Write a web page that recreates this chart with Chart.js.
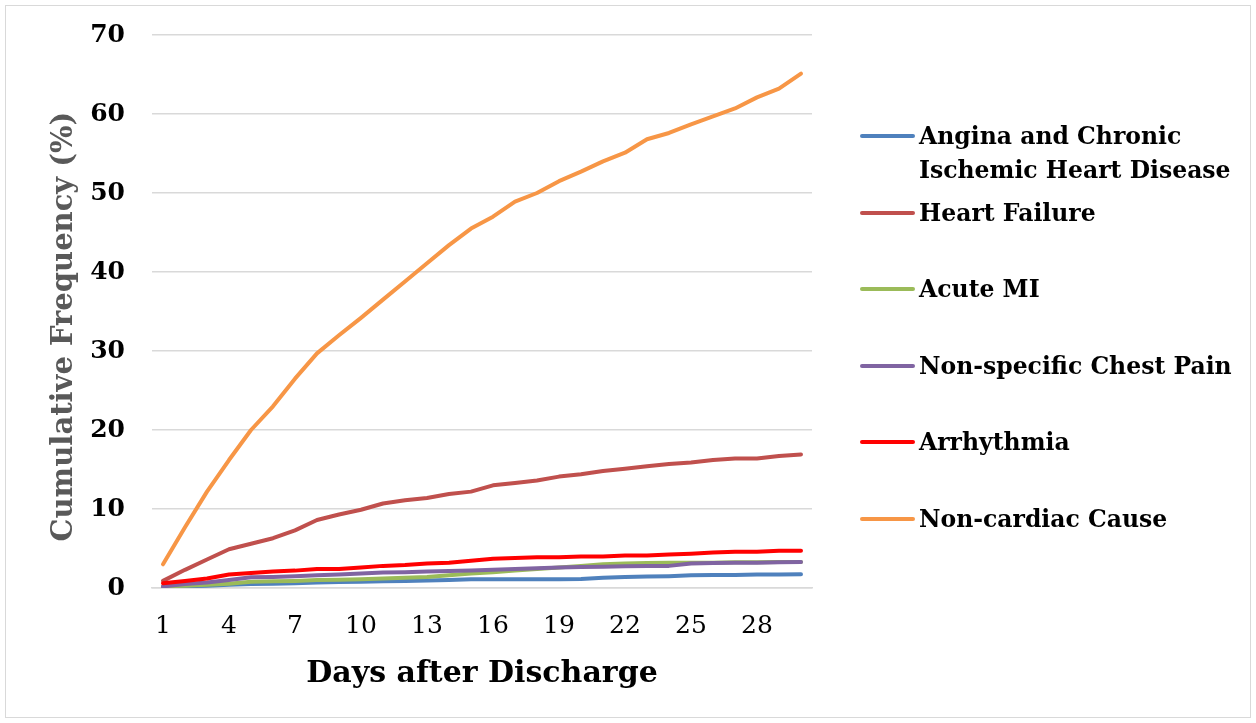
<!DOCTYPE html>
<html lang="en">
<head>
  <meta charset="UTF-8">
  <title>Cumulative Frequency by Cause</title>
  <style>
    body {
      margin: 0;
      padding: 0;
      background: #ffffff;
    }

    #wrap {
      position: relative;
      width: 1256px;
      height: 723px;
    }

    #frame {
      position: absolute;
      left: 5px;
      top: 5px;
      width: 1246px;
      height: 713px;
      border: 1.5px solid #d9d9d9;
      box-sizing: border-box;
      pointer-events: none;
    }

    #legend {
      position: absolute;
      left: 0;
      top: 0;
      font-family: "DejaVu Serif", serif;
      font-weight: bold;
      font-size: 23.5px;
      line-height: 34px;
      color: #000;
    }

    .item {
      position: absolute;
      left: 860px;
      white-space: nowrap;
    }

    .swatch {
      position: absolute;
      left: 0;
      top: 15px;
      width: 55px;
      height: 4px;
      border-radius: 2px;
    }

    .label {
      position: absolute;
      left: 59px;
      top: 0;
    }
  </style>
</head>
<body>
  <div id="wrap">
    <canvas id="grafico" width="1256" height="723"></canvas>
    <div id="frame"></div>
    <div id="legend"></div>
  </div>

  <script src="https://cdn.jsdelivr.net/npm/chart.js"></script>
  <script>
    const days = [1, 2, 3, 4, 5, 6, 7, 8, 9, 10, 11, 12, 13, 14, 15,
                  16, 17, 18, 19, 20, 21, 22, 23, 24, 25, 26, 27, 28, 29, 30];

    const seriesNames = [
      ['Angina and Chronic', 'Ischemic Heart Disease'],
      ['Heart Failure'],
      ['Acute MI'],
      ['Non-specific Chest Pain'],
      ['Arrhythmia'],
      ['Non-cardiac Cause']
    ];

    const angina = [0.05, 0.2, 0.3, 0.4, 0.5, 0.55, 0.6, 0.7, 0.75, 0.8, 0.85, 0.9, 0.95, 1.0, 1.1,
                    1.1, 1.1, 1.1, 1.1, 1.15, 1.3, 1.4, 1.45, 1.5, 1.6, 1.65, 1.65, 1.7, 1.7, 1.75];
    const heartFailure = [0.9, 2.3, 3.6, 4.9, 5.6, 6.3, 7.3, 8.6, 9.3, 9.9, 10.7, 11.1, 11.4, 11.9, 12.2,
                          13.0, 13.3, 13.6, 14.1, 14.4, 14.8, 15.1, 15.4, 15.7, 15.9, 16.2, 16.4, 16.4, 16.7, 16.9];
    const acuteMI = [0.2, 0.3, 0.4, 0.55, 0.8, 0.85, 0.9, 1.0, 1.05, 1.1, 1.2, 1.3, 1.4, 1.6, 1.85,
                     2.0, 2.2, 2.4, 2.6, 2.8, 3.0, 3.1, 3.15, 3.2, 3.2, 3.2, 3.25, 3.25, 3.3, 3.3];
    const chestPain = [0.2, 0.5, 0.7, 1.0, 1.35, 1.4, 1.5, 1.6, 1.7, 1.85, 1.95, 2.0, 2.1, 2.15, 2.2,
                       2.3, 2.4, 2.5, 2.6, 2.65, 2.7, 2.75, 2.8, 2.8, 3.1, 3.15, 3.2, 3.2, 3.25, 3.3];
    const arrhythmia = [0.6, 0.9, 1.2, 1.7, 1.9, 2.1, 2.2, 2.4, 2.4, 2.6, 2.8, 2.9, 3.1, 3.2, 3.45,
                        3.7, 3.8, 3.9, 3.9, 4.0, 4.0, 4.1, 4.1, 4.25, 4.35, 4.5, 4.6, 4.6, 4.7, 4.7];
    const nonCardiac = [3.0, 7.7, 12.2, 16.2, 20.0, 23.0, 26.5, 29.7, 32.0, 34.2, 36.5, 38.8, 41.1, 43.4, 45.5,
                        47.0, 48.9, 50.0, 51.5, 52.7, 54.0, 55.1, 56.8, 57.6, 58.7, 59.7, 60.7, 62.1, 63.2, 65.1];

    const yTicks = [0, 10, 20, 30, 40, 50, 60, 70];

    const cores = ['#4f81bd', '#c0504d', '#9bbb59', '#8064a2', '#ff0000', '#f79646'];
    const valores = [angina, heartFailure, acuteMI, chestPain, arrhythmia, nonCardiac];

    const fonte = 'DejaVu Serif';

    const datasets = valores.map((v, i) => ({
      label: seriesNames[i].join(' '),
      data: v,
      borderColor: cores[i],
      backgroundColor: cores[i],
      borderWidth: 4,
      pointRadius: 0,
      tension: 0,
      borderCapStyle: 'round',
      borderJoinStyle: 'round',
      order: valores.length - 1 - i
    }));

    const ctx = document.getElementById('grafico').getContext('2d');
    const grafico = new Chart(ctx, {
      type: 'line',
      data: {
        labels: days,
        datasets: datasets
      },
      options: {
        responsive: false,
        animation: false,
        layout: {
          padding: { left: 40, right: 444, top: 35, bottom: 0 }
        },
        plugins: {
          legend: { display: false },
          tooltip: { enabled: false }
        },
        scales: {
          x: {
            offset: true,
            grid: { display: false },
            border: { display: true, color: '#d9d9d9', width: 1.5 },
            ticks: {
              autoSkip: false,
              maxRotation: 0,
              padding: 15,
              color: '#000',
              font: { family: fonte, size: 25 },
              callback: function (value, index) {
                return index % 3 === 0 ? days[index] : '';
              }
            },
            title: {
              display: true,
              text: 'Days after Discharge',
              color: '#000',
              font: { family: fonte, size: 30, weight: 'bold' },
              padding: { top: 0, bottom: 31 }
            },
            afterFit: function (scale) { scale.height = 723 - 588; }
          },
          y: {
            min: 0,
            max: 70,
            afterBuildTicks: function (scale) {
              scale.ticks = yTicks.map(v => ({ value: v }));
            },
            grid: { color: '#d9d9d9', lineWidth: 1.5, drawTicks: false },
            border: { display: false },
            ticks: {
              padding: 27,
              color: '#000',
              font: { family: fonte, size: 25, weight: 'bold' }
            },
            title: {
              display: true,
              text: 'Cumulative Frequency (%)\u00a0\u00a0\u00a0',
              color: '#595959',
              font: { family: fonte, size: 29, weight: 'bold' },
              padding: { top: 7, bottom: 0 }
            },
            afterFit: function (scale) {
              scale.width = 152 - 40;
              scale.paddingTop = 0;
              scale.paddingBottom = 0;
            }
          }
        }
      }
    });

    // legenda em HTML, porque a primeira entrada tem duas linhas
    const legenda = document.getElementById('legend');
    seriesNames.forEach((linhas, i) => {
      const item = document.createElement('div');
      item.className = 'item';
      item.style.top = (136 + i * 76.5 - 17) + 'px';
      const sw = document.createElement('div');
      sw.className = 'swatch';
      sw.style.background = cores[i];
      const lb = document.createElement('div');
      lb.className = 'label';
      lb.innerHTML = linhas.join('<br>');
      item.appendChild(sw);
      item.appendChild(lb);
      legenda.appendChild(item);
    });
  </script>
</body>
</html>
